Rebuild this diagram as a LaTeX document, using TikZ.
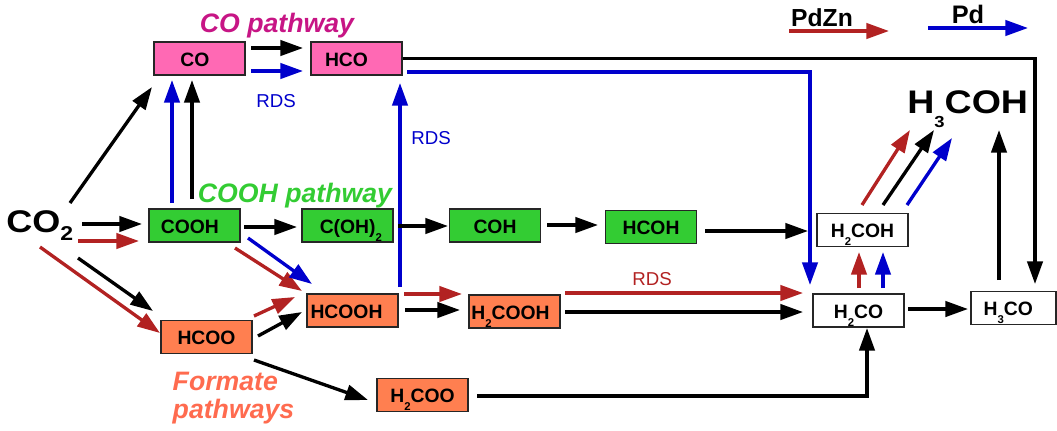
\documentclass[tikz,border=0pt]{standalone}
\usepackage{fontspec}
\setmainfont{Liberation Sans}
\usetikzlibrary{arrows.meta}
\definecolor{pinkfill}{RGB}{255,105,180}
\definecolor{greenfill}{RGB}{51,204,51}
\definecolor{orangefill}{RGB}{255,127,80}
\definecolor{arred}{RGB}{178,34,34}
\definecolor{arblue}{RGB}{0,0,204}
\definecolor{colabel}{RGB}{199,21,133}
\definecolor{cooh}{RGB}{51,204,51}
\definecolor{formate}{RGB}{255,107,79}
\newcommand{\sbs}[1]{\raisebox{-6pt}{\fontsize{8.5pt}{8.5pt}\selectfont #1}}
\tikzset{
  box/.style={draw=black!85, line width=0.9pt, minimum width={91*0.75pt}, minimum height={33*0.75pt},
    inner sep=0pt, font=\fontsize{14.5pt}{14.5pt}\selectfont\bfseries, text height=11.5pt, text depth=0pt},
  pinkbox/.style={box, fill=pinkfill},
  greenbox/.style={box, fill=greenfill},
  orangebox/.style={box, fill=orangefill},
  whitebox/.style={box, fill=white},
  arr/.style={line width=2.5pt, -{Triangle[length=17pt,width=11.5pt]}},
  kArr/.style={arr, draw=black},
  rArr/.style={arr, draw=arred},
  bArr/.style={arr, draw=arblue},
  pathlabel/.style={anchor=base, font=\fontsize{20pt}{20pt}\selectfont\bfseries\itshape},
  rds/.style={anchor=base, font=\fontsize{14pt}{14pt}\selectfont},
  bigtext/.style={anchor=base west, inner sep=0pt},
}
\begin{document}
\begin{tikzpicture}[x=0.75pt,y=-0.75pt]
\useasboundingbox (0,0) rectangle (1057,430);

% boxes
\node[pinkbox] (CO) at (199.5,58.5) {CO\kern7pt};
\node[pinkbox] (HCO) at (356.5,58.5) {HCO\kern15pt};
\node[greenbox] (COOH) at (194.5,225.5) {COOH\kern7pt};
\node[greenbox] (COH2) at (347.5,225.5) {\kern5pt C(OH)\sbs{2}};
\node[greenbox] (COH) at (495,225.5) {COH};
\node[greenbox] (HCOH) at (651,227) {HCOH};
\node[whitebox] (H2COH) at (862.5,230) {H\sbs{2}COH};
\node[whitebox] (H2CO) at (858.5,310.5) {H\sbs{2}CO};
\node[whitebox, minimum width={85*0.75pt}] (H3CO) at (1013.5,308) {H\sbs{3}CO\kern8pt};
\node[orangebox] (HCOOH) at (352.5,310.5) {HCOOH\kern9pt};
\node[orangebox] (H2COOH) at (514.5,311.5) {H\sbs{2}COOH\kern6pt};
\node[orangebox] (HCOO) at (206.5,337) {HCOO};
\node[orangebox] (H2COO) at (422.5,395) {H\sbs{2}COO};

% big species
\node[bigtext] (CO2) at (6,232)
  {\scalebox{1.15}[1]{\fontsize{23.5pt}{23.5pt}\selectfont\bfseries CO\raisebox{-6pt}{\fontsize{15pt}{15pt}\selectfont 2}}};
\node[bigtext] (H3COH) at (907,113)
  {\scalebox{1.15}[1]{\fontsize{24.5pt}{24.5pt}\selectfont\bfseries H\raisebox{-10.5pt}{\fontsize{12pt}{12pt}\selectfont 3}COH}};

% labels
\node[pathlabel, text=colabel] (lco) at (277,32) {CO pathway};
\node[pathlabel, text=cooh] (lcooh) at (295,202) {COOH pathway};
\node[pathlabel, text=formate, anchor=base west] (lf1) at (168,390) {Formate};
\node[pathlabel, text=formate, anchor=base west] (lf2) at (168,418) {pathways};
\node[rds, text=arblue] (rds1) at (276,107) {RDS};
\node[rds, text=arblue] (rds2) at (431,144) {RDS};
\node[rds, text=arred] (rds3) at (652,285) {RDS};

% legend
\node[anchor=base, inner sep=0pt, font=\fontsize{18.5pt}{18.5pt}\selectfont\bfseries] (lpdzn) at (822,26) {PdZn};
\node[anchor=base, inner sep=0pt, font=\fontsize{19pt}{19pt}\selectfont\bfseries] (lpd) at (968,23) {Pd};
\coordinate (pz1) at (789,31);
\coordinate (pz2) at (889,31);
\coordinate (pd1) at (928,28);
\coordinate (pd2) at (1028,28);
\draw[rArr] (pz1) -- (pz2);
\draw[bArr] (pd1) -- (pd2);

% CO2 arrows
\draw[kArr] ([shift={(64,-29)}]CO2.base west) -- ([shift={(-47.5,28.5)}]CO.center);
\draw[kArr] ([shift={(76,-8)}]CO2.base west) -- ([shift={(-52.5,-1.5)}]COOH.center);
\draw[rArr] ([shift={(72,9)}]CO2.base west) -- ([shift={(-55.5,15.5)}]COOH.center);
\draw[kArr] ([shift={(72,26)}]CO2.base west) -- ([shift={(-53.5,-26)}]HCOO.center);
\draw[rArr] ([shift={(34,15)}]CO2.base west) -- ([shift={(-46.5,-4)}]HCOO.center);

% COOH -> CO
\draw[bArr] ([shift={(-22.5,-22.5)}]COOH.center) -- ([shift={(-27.5,21.5)}]CO.center);
\draw[kArr] ([shift={(-2.5,-26.5)}]COOH.center) -- ([shift={(-7.5,21.5)}]CO.center);

% CO -> HCO
\draw[kArr] ([shift={(51.5,-10.5)}]CO.center) -- ([shift={(-53.5,-10.5)}]HCO.center);
\draw[bArr] ([shift={(51.5,12.5)}]CO.center) -- ([shift={(-53.5,12.5)}]HCO.center);

% HCO -> H3CO, HCO -> H2CO
\draw[kArr] (HCO.east) -| ([shift={(21.5,-24)}]H3CO.center);
\draw[bArr] ([shift={(50.5,13.5)}]HCO.center) -| ([shift={(-48.5,-25.5)}]H2CO.center);

% HCOOH -> HCO
\draw[bArr] ([shift={(47.5,-23.5)}]HCOOH.center) -- ([shift={(43.5,24.5)}]HCO.center);

% COOH pathway chain
\draw[kArr] ([shift={(49.5,1.5)}]COOH.center) -- ([shift={(-50.5,1.5)}]COH2.center);
\draw[kArr] ([shift={(50.5,0.5)}]COH2.center) -- ([shift={(-47,0.5)}]COH.center);
\draw[kArr] ([shift={(52,-0.5)}]COH.center) -- ([shift={(-53,-2)}]HCOH.center);
\draw[kArr] ([shift={(54,4)}]HCOH.center) -- ([shift={(-54.5,1)}]H2COH.center);

% COOH -> HCOOH
\draw[rArr] ([shift={(40.5,22.5)}]COOH.center) -- ([shift={(-50.5,-19.5)}]HCOOH.center);
\draw[bArr] ([shift={(53.5,12.5)}]COOH.center) -- ([shift={(-40.5,-26.5)}]HCOOH.center);

% HCOO -> HCOOH
\draw[rArr] ([shift={(47.5,-21)}]HCOO.center) -- ([shift={(-57.5,-13.5)}]HCOOH.center);
\draw[kArr] ([shift={(51.5,-1)}]HCOO.center) -- ([shift={(-50.5,1.5)}]HCOOH.center);

% HCOOH -> H2COOH
\draw[rArr] ([shift={(51.5,-16.5)}]HCOOH.center) -- ([shift={(-52.5,-17.5)}]H2COOH.center);
\draw[kArr] ([shift={(52.5,-0.5)}]HCOOH.center) -- ([shift={(-54.5,-1.5)}]H2COOH.center);

% H2COOH -> H2CO
\draw[rArr] ([shift={(50.5,-18.5)}]H2COOH.center) -- ([shift={(-55.5,-17.5)}]H2CO.center);
\draw[kArr] ([shift={(50.5,0.5)}]H2COOH.center) -- ([shift={(-55.5,1.5)}]H2CO.center);

% H2CO -> H2COH
\draw[rArr] ([shift={(0.5,-22.5)}]H2CO.center) -- ([shift={(-3.5,22)}]H2COH.center);
\draw[bArr] ([shift={(24.5,-22.5)}]H2CO.center) -- ([shift={(20.5,22)}]H2COH.center);

% H2COH -> H3COH
\draw[rArr] ([shift={(-0.5,-25)}]H2COH.center) -- ([shift={(3,17)}]H3COH.base west);
\draw[kArr] ([shift={(20.5,-25)}]H2COH.center) -- ([shift={(27,17)}]H3COH.base west);
\draw[bArr] ([shift={(44.5,-25)}]H2COH.center) -- ([shift={(45,25)}]H3COH.base west);

% H3CO -> H3COH
\draw[kArr] ([shift={(-14.5,-28)}]H3CO.center) -- ([shift={(92,17)}]H3COH.base west);

% H2CO -> H3CO
\draw[kArr] ([shift={(49.5,-1.5)}]H2CO.center) -- ([shift={(-45.5,1)}]H3CO.center);

% HCOO -> H2COO -> H2CO
\draw[kArr] ([shift={(47.5,23)}]HCOO.center) -- ([shift={(-54.5,5)}]H2COO.center);
\draw[kArr] ([shift={(54.5,1)}]H2COO.center) -| ([shift={(8.5,17.5)}]H2CO.center);
\end{tikzpicture}
\end{document}
